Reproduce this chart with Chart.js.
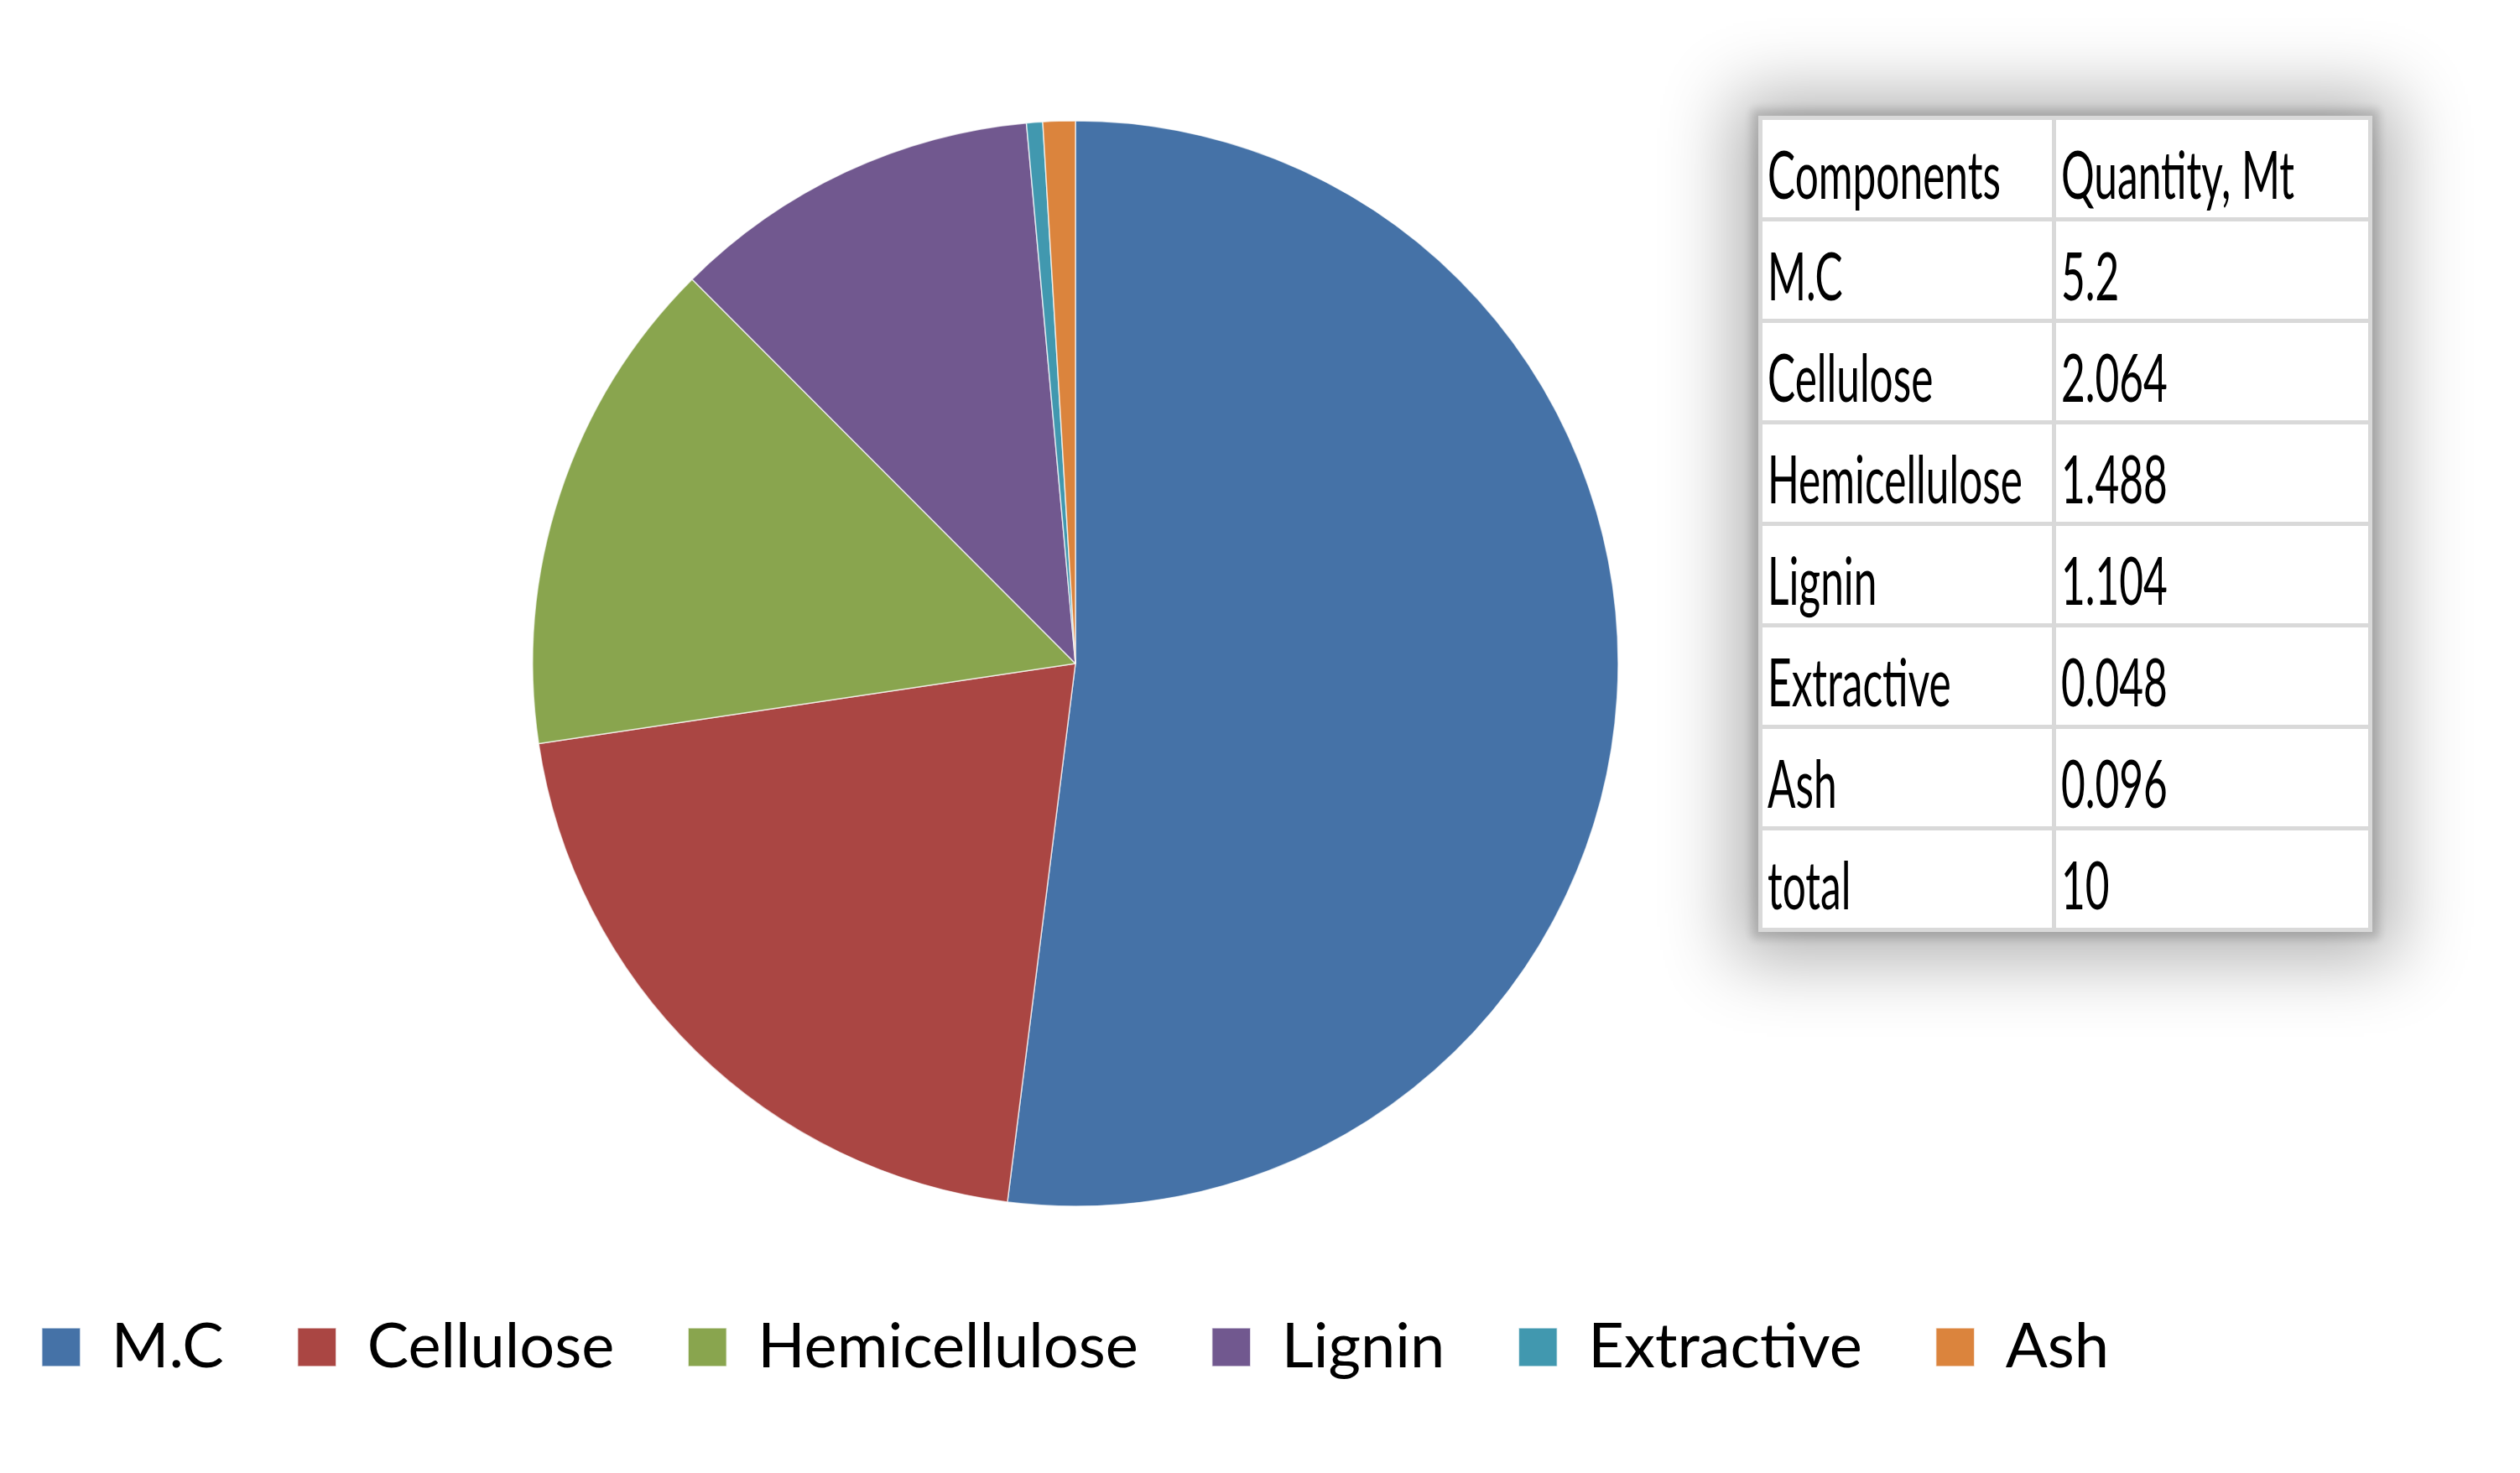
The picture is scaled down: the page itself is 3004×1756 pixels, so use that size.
<!DOCTYPE html>
<html>
<head>
<meta charset="utf-8">
<script src="https://cdn.jsdelivr.net/npm/chart.js@4.4.0/dist/chart.umd.min.js"></script>
<style>
    html, body { margin: 0; padding: 0; background: #ffffff; }
    body { width: 3004px; height: 1756px; position: relative; overflow: hidden; }
    .chart-container { position: absolute; left: -78px; top: 0; width: 2720px; height: 1756px; }
    .table-box {
        position: absolute; left: 2096px; top: 138px; width: 732px;
        background: #ffffff;
        box-shadow: 0 0 10px 8px rgba(0, 0, 0, 0.16), 0 4px 80px 30px rgba(0, 0, 0, 0.30);
    }
    .table-box table { width: 100%; border-collapse: collapse; table-layout: fixed; }
    .table-box td {
        border: 5px solid #d9d9d9; padding: 0 0 0 6px; height: 116px; line-height: 1;
        font-family: Lato, sans-serif; font-size: 80px; color: #000;
        white-space: nowrap; overflow: visible; vertical-align: middle;
    }
    .table-box td span { display: inline-block; transform: scaleX(0.62); transform-origin: left center; position: relative; top: 5px; }
    .table-box col.c1 { width: 350px; }
</style>
</head>
<body>
<div class="chart-container"><canvas id="pieChart"></canvas></div>
<div class="table-box"><table id="compTable"><colgroup><col class="c1"><col></colgroup><tbody></tbody></table></div>
<script>
const components = ["M.C", "Cellulose", "Hemicellulose", "Lignin", "Extractive", "Ash"];
const quantities = [5.2, 2.064, 1.488, 1.104, 0.048, 0.096];
const quantityText = ["5.2", "2.064", "1.488", "1.104", "0.048", "0.096"];
const totalText = "10";
const sliceColors = ["#4572A7", "#AA4643", "#89A54E", "#71588F", "#4198AF", "#DB843D"];

// table next to the pie
const tbody = document.querySelector("#compTable tbody");
const rows = [["Components", "Quantity, Mt"]];
components.forEach((c, i) => rows.push([c, quantityText[i]]));
rows.push(["total", totalText]);
tbody.innerHTML = rows.map(r => `<tr><td><span>${r[0]}</span></td><td><span>${r[1]}</span></td></tr>`).join("");

const ctx = document.getElementById("pieChart").getContext("2d");

window.pieChart = new Chart(ctx, {
    type: "pie",
    data: {
        labels: components,
        datasets: [
            {
                data: quantities,
                backgroundColor: sliceColors,
                borderColor: "rgba(255,255,255,0.7)",
                borderWidth: 1.5,
                radius: 647,
            },
        ],
    },
    options: {
        responsive: true,
        maintainAspectRatio: false,
        animation: false,
        layout: {
            padding: { top: 101, bottom: 103, left: 0, right: 0 },
        },
        plugins: {
            tooltip: { enabled: false },
            legend: {
                display: true,
                position: "bottom",
                labels: {
                    boxWidth: 46,
                    boxHeight: 46,
                    padding: 88,
                    color: "#000000",
                    font: {
                        family: "Lato, 'Noto Sans', sans-serif",
                        size: 74,
                    },
                },
            },
        },
    },
});
</script>
</body>
</html>
